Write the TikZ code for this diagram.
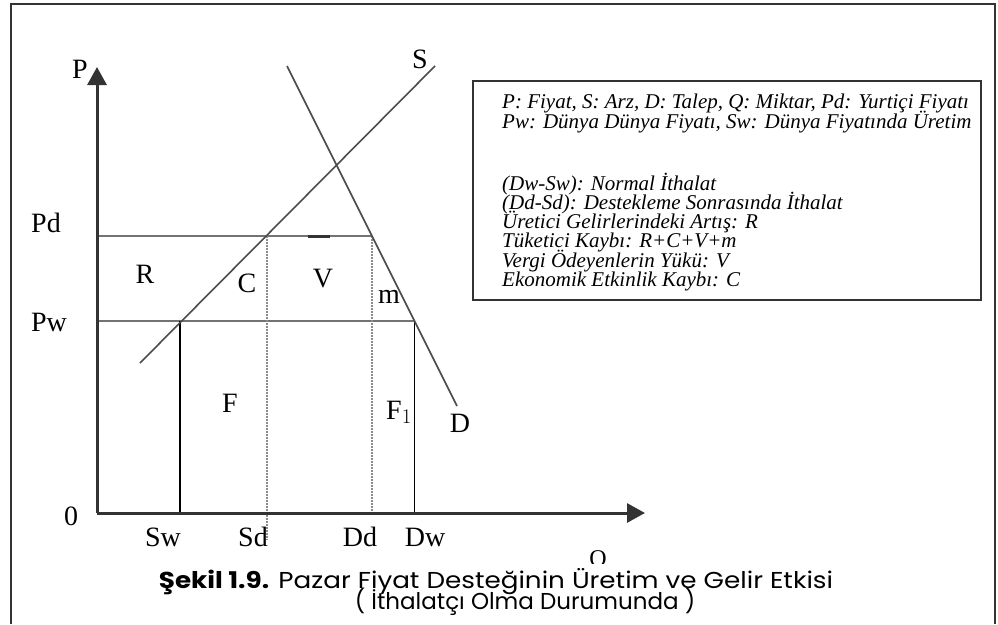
\documentclass[tikz,border=0pt]{standalone}
\usepackage{fontspec}
\setmainfont{Liberation Serif}
\newfontfamily\capfont{Poppins}
\usetikzlibrary{arrows.meta}
\begin{document}
\begin{tikzpicture}[x=1pt,y=-1pt,
  lbl/.style={font=\fontsize{28}{30}\selectfont, inner sep=0pt, anchor=base},
  leg/.style={font=\fontsize{21}{22}\selectfont\itshape, inner sep=0pt, anchor=base west},
  capt/.style={font=\capfont\fontsize{23}{25}\selectfont, inner sep=0pt, anchor=base},
  axisline/.style={line width=3pt, draw=black!80, -{Triangle[length=18pt,width=19pt]}},
  frameline/.style={line width=2pt, draw=black!80},
  priceline/.style={line width=2.5pt, draw=black!55},
  curve/.style={line width=1.6pt, draw=black!70},
  qline/.style={line width=1.5pt, draw=black},
  dotline/.style={line width=1.8pt, draw=black!45, dash pattern=on 1.6pt off 1.4pt}]
\useasboundingbox (0,0) rectangle (998,624);
% outer frame
\draw[frameline] (11,624) -- (11,4) -- (995,4) -- (995,624);
% key points
\coordinate (O) at (97,513);
\coordinate (Ptop) at (97,67);
\coordinate (Qend) at (645,513);
\coordinate (PdL) at (97,236);
\coordinate (PwL) at (97,321);
\coordinate (SdPt) at (267,236);
\coordinate (DdPt) at (372,236);
\coordinate (SwPt) at (180,321);
\coordinate (DwPt) at (414.5,321);
\coordinate (SdB) at (267,540);
\coordinate (DdB) at (372,513);
\coordinate (SwB) at (180,513);
\coordinate (DwB) at (414.5,513);
\coordinate (Slo) at (140,363);
\coordinate (Shi) at (435,66);
\coordinate (Dhi) at (287,66);
\coordinate (Dlo) at (457,406);
% price lines
\draw[priceline] (PdL) -- (DdPt);
\draw[priceline] (PwL) -- (DwPt);
\draw[line width=3pt, draw=black!80] (308,236) -- (330,236);
% dotted verticals
\draw[dotline] (SdPt) -- (SdB);
\draw[dotline] (DdPt) -- (DdB);
% solid verticals
\draw[qline] (SwPt) -- (SwB);
\draw[qline] (DwPt) -- (DwB);
% supply and demand
\draw[curve] (Slo) -- (Shi);
\draw[curve] (Dhi) -- (Dlo);
% axes
\draw[axisline] (O) -- (Ptop);
\draw[axisline] (O) -- (Qend);
% labels
\node[lbl] (lP) at (80,78) {P};
\node[lbl] (lS) at (420,68) {S};
\node[lbl] (lPd) at (46,232) {Pd};
\node[lbl] (lPw) at (49,331) {Pw};
\node[lbl] (lR) at (145,283) {R};
\node[lbl] (lC) at (247,292) {C};
\node[lbl] (lV) at (323,287) {V};
\node[lbl] (lm) at (389,303) {m};
\node[lbl] (lF) at (230,412) {F};
\node[lbl] (lF1) at (399,419) {F$_1$};
\node[lbl] (lD) at (460,432) {D};
\node[lbl] (l0) at (71,525) {0};
\node[lbl] (lSw) at (163,546) {Sw};
\node[lbl] (lSd) at (253,546) {Sd};
\node[lbl] (lDd) at (360,546) {Dd};
\node[lbl] (lDw) at (425,546) {Dw};
\node[lbl, font=\fontsize{24}{26}\selectfont] (lQ) at (598,566) {Q};
% legend
\draw[frameline] (473,81) rectangle (981,300);
\node[leg] (g1) at (502,108) {P: Fiyat, S: Arz, D: Talep, Q: Miktar, Pd: Yurtiçi Fiyatı};
\node[leg] (g2) at (502,128) {Pw: Dünya Dünya Fiyatı, Sw: Dünya Fiyatında Üretim};
\node[leg] (g3) at (502,190) {(Dw-Sw): Normal İthalat};
\node[leg] (g4) at (502,209) {(Dd-Sd): Destekleme Sonrasında İthalat};
\node[leg] (g5) at (502,228) {Üretici Gelirlerindeki Artış: R};
\node[leg] (g6) at (502,247) {Tüketici Kaybı: R+C+V+m};
\node[leg] (g7) at (502,267) {Vergi Ödeyenlerin Yükü: V};
\node[leg] (g8) at (502,286) {Ekonomik Etkinlik Kaybı: C};
% caption
\fill[white] (160,564) rectangle (840,618);
\node[capt] (cap1) at (496,588) {\scalebox{1.14}[1]{\textbf{Şekil 1.9.} Pazar Fiyat Desteğinin Üretim ve Gelir Etkisi}};
\node[capt] (cap2) at (525,609) {( İthalatçı Olma Durumunda )};
\end{tikzpicture}
\end{document}
